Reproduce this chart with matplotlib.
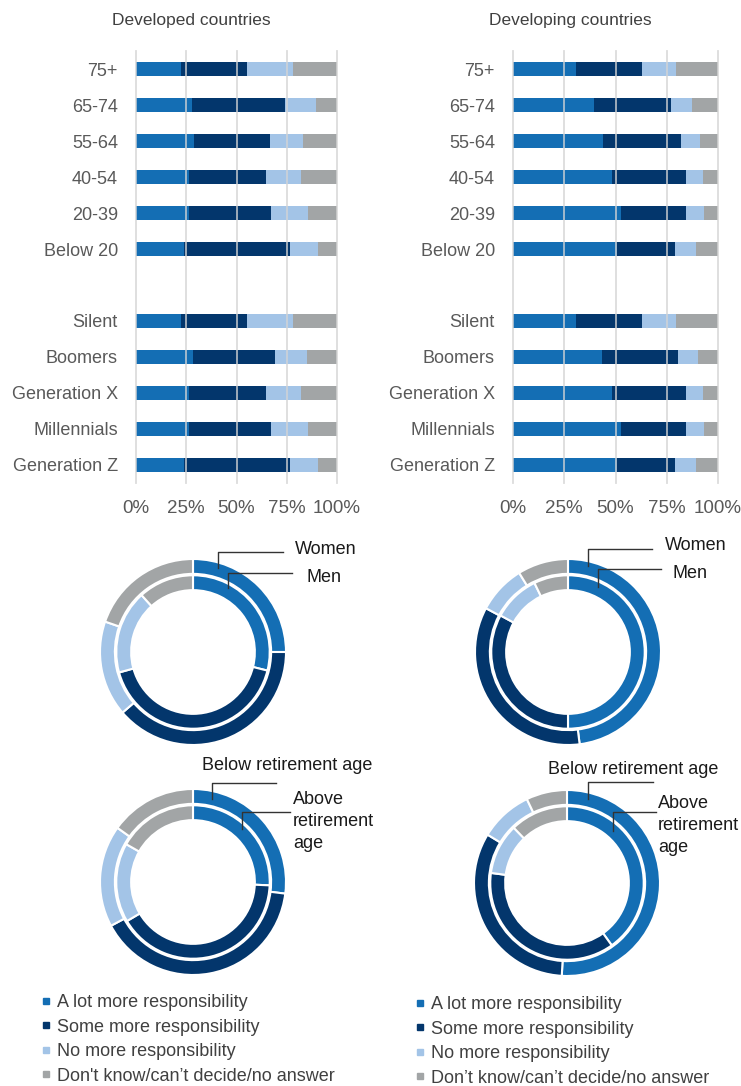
import matplotlib.pyplot as plt
from matplotlib.lines import Line2D
import numpy as np

plt.rcParams['font.family'] = ['Liberation Sans', 'DejaVu Sans']

# categories
age_groups = ["75+", "65-74", "55-64", "40-54", "20-39", "Below 20"]
generations = ["Silent", "Boomers", "Generation X", "Millennials", "Generation Z"]
answers = ["A lot more responsibility", "Some more responsibility",
           "No more responsibility", "Don't know/can\u2019t decide/no answer"]
answers_right = ["A lot more responsibility", "Some more responsibility",
                 "No more responsibility", "Don\u2019t know/can\u2019t decide/no answer"]

# developed countries, % per answer (a lot, some, no more, don't know)
dev_age = [[22.4, 32.8, 22.9, 21.9],
           [27.9, 46.2, 15.5, 10.4],
           [28.9, 37.8, 16.4, 16.9],
           [26.4, 38.3, 17.4, 17.9],
           [26.4, 40.8, 18.4, 14.4],
           [23.9, 52.7, 13.9, 9.5]]
dev_gen = [[22.4, 32.8, 22.9, 21.9],
           [28.4, 40.8, 15.9, 14.9],
           [26.4, 38.3, 17.4, 17.9],
           [26.4, 40.8, 18.4, 14.4],
           [23.9, 52.7, 13.9, 9.5]]

# developing countries
dvg_age = [[30.5, 32.2, 16.6, 20.7],
           [39.3, 37.6, 10.2, 12.9],
           [44.1, 37.7, 9.2, 9.0],
           [48.5, 35.7, 8.3, 7.5],
           [52.9, 31.3, 8.8, 7.0],
           [50.5, 28.3, 10.3, 10.9]]
dvg_gen = [[30.5, 32.2, 16.6, 20.7],
           [43.2, 37.1, 9.8, 9.9],
           [48.5, 35.7, 8.3, 7.5],
           [52.9, 31.3, 8.8, 7.0],
           [50.5, 28.3, 10.3, 10.9]]

# donuts
dev_women = [25.0, 38.7, 16.6, 19.7]
dev_men = [28.9, 41.8, 17.6, 11.7]
dvg_women = [48.0, 34.8, 8.4, 8.8]
dvg_men = [50.0, 32.9, 9.9, 7.2]
dev_below_ret = [27.0, 40.2, 17.7, 15.1]
dev_above_ret = [25.7, 40.8, 16.7, 16.8]
dvg_below_ret = [50.9, 32.8, 9.2, 7.1]
dvg_above_ret = [40.1, 37.0, 10.7, 12.2]

colors = ['#146eb4', '#03366c', '#a3c4e7', '#a2a5a6']
W, H = 741, 1086

fig = plt.figure(figsize=(W / 100, H / 100), dpi=100)


def px(x, y):
    return x / W, 1 - y / H


def bar_panel(left, width, title, title_x, age_vals, gen_vals):
    ax = fig.add_axes([left / W, 1 - 483 / H, width / W, 432 / H])
    labels = age_groups + [""] + generations
    vals = np.array(age_vals + [[0, 0, 0, 0]] + gen_vals)
    ypos = np.arange(len(labels))
    lefts = np.zeros(len(labels))
    for k in range(4):
        ax.barh(ypos, vals[:, k], left=lefts, height=0.4, color=colors[k], zorder=2)
        lefts += vals[:, k]
    for g in [0, 25, 50, 75, 100]:
        ax.axvline(g, color='#d4d4d4', lw=1.3, zorder=3, alpha=0.8, clip_on=False)
    ax.set_xlim(0, 100)
    ax.set_ylim(len(labels) - 0.5, -0.5)
    ax.set_yticks(ypos)
    ax.set_yticklabels(labels, fontsize=13, color='#595959')
    ax.set_xticks([0, 25, 50, 75, 100])
    ax.set_xticklabels(['0%', '25%', '50%', '75%', '100%'], fontsize=13.5, color='#595959')
    ax.tick_params(length=0)
    ax.tick_params(axis='y', pad=13)
    ax.tick_params(axis='x', pad=12)
    for s in ax.spines.values():
        s.set_visible(False)
    fig.text(*px(title_x, 20), title, ha='center', va='center', fontsize=12.5, color='#404040')


bar_panel(136, 201, "Developed countries", 191, dev_age, dev_gen)
bar_panel(513, 205, "Developing countries", 570, dvg_age, dvg_gen)


def donut(cx, cy, outer, inner):
    ax = fig.add_axes([(cx - 100) / W, 1 - (cy + 100) / H, 200 / W, 200 / H])
    wp = dict(width=0.16, edgecolor='white', linewidth=1.5)
    ax.pie(outer, radius=1.0, startangle=90, counterclock=False, colors=colors, wedgeprops=wp)
    ax.pie(inner, radius=0.825, startangle=90, counterclock=False, colors=colors, wedgeprops=wp)
    ax.set_xlim(-100 / 93, 100 / 93)
    ax.set_ylim(-100 / 93, 100 / 93)
    ax.axis('off')


donut(193, 652, dev_women, dev_men)
donut(568, 652, dvg_women, dvg_men)
donut(193, 882, dev_below_ret, dev_above_ret)
donut(567, 883, dvg_below_ret, dvg_above_ret)


def leader(x0, y0, y1, x1):
    xs = [x0, x0, x1]
    ys = [y0, y1, y1]
    fig.add_artist(Line2D([x / W for x in xs], [1 - y / H for y in ys],
                          color='#333333', lw=1.0))


txt = dict(fontsize=13, color='#1a1a1a', va='center')
# top-left
leader(218, 568, 552, 283)
fig.text(*px(295, 549), "Women", **txt)
leader(228, 588, 573, 292)
fig.text(*px(307, 577), "Men", **txt)
# top-right
leader(588, 566, 549, 652)
fig.text(*px(665, 546), "Women", **txt)
leader(598, 587, 569, 661)
fig.text(*px(673, 574), "Men", **txt)
# bottom-left
leader(212, 799, 783, 276)
fig.text(*px(202, 765), "Below retirement age", **txt)
leader(242, 829, 812, 290)
fig.text(*px(293, 800), "Above", **txt)
fig.text(*px(293, 822), "retirement", **txt)
fig.text(*px(293, 844), "age", **txt)
# bottom-right
leader(588, 799, 782, 653)
fig.text(*px(548, 770), "Below retirement age", **txt)
leader(613, 831, 812, 656)
fig.text(*px(658, 803), "Above", **txt)
fig.text(*px(658, 825), "retirement", **txt)
fig.text(*px(658, 847), "age", **txt)


def legend_block(x, y, labels):
    handles = [Line2D([], [], marker='s', ls='none', markersize=5,
                      markerfacecolor=c, markeredgecolor=c) for c in colors]
    fig.legend(handles, labels, loc='upper left', bbox_to_anchor=px(x, y),
               frameon=False, fontsize=13, labelcolor='#404040',
               handlelength=0.5, handletextpad=0.4, labelspacing=0.42,
               borderpad=0, borderaxespad=0)


legend_block(41, 994, answers)
legend_block(415, 996, answers_right)

fig.savefig("out.png", dpi=100)
